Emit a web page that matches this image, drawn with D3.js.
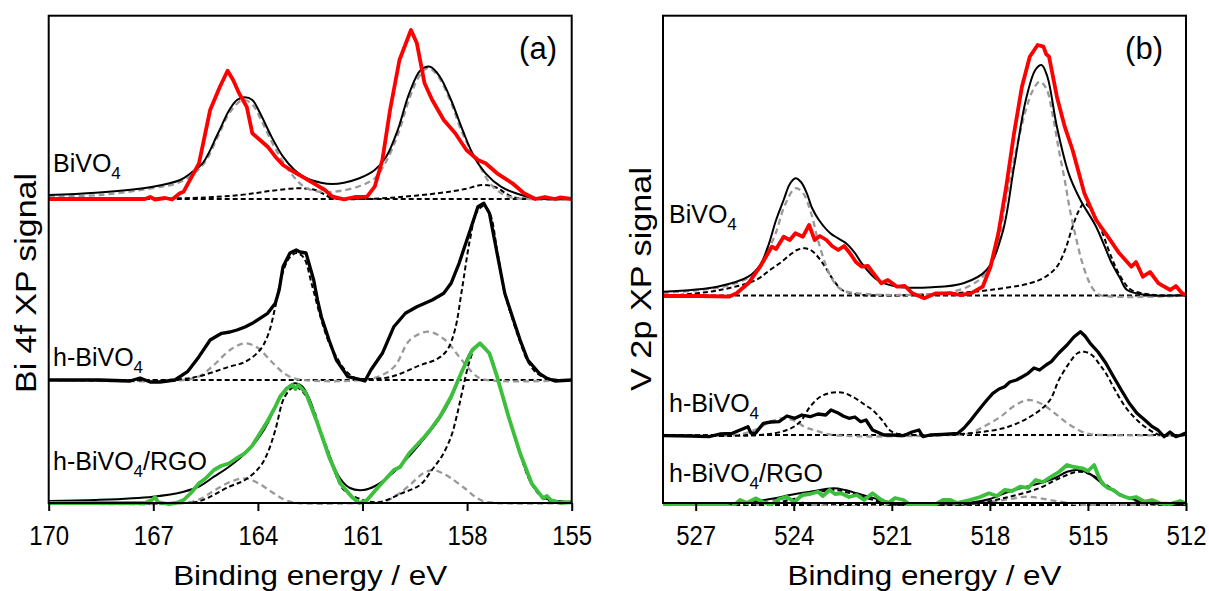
<!DOCTYPE html>
<html><head><meta charset="utf-8">
<script src="https://cdn.jsdelivr.net/npm/d3@7"></script>
<style>
html,body{margin:0;padding:0;background:#fff;}
svg{display:block;font-family:Arial,"Liberation Sans",sans-serif;}
</style></head>
<body>
<svg id="chart" width="1209" height="591"></svg>
<script>
// ---------------- DATA (energy in eV, signal in arbitrary units above each trace's baseline) ----------------
const ticksA = [170,167,164,161,158,155];
const ticksB = [527,524,521,518,515,512];
const offsetsA = [304, 123, 0];     // BiVO4, h-BiVO4, h-BiVO4/RGO
const offsetsB = [207.5, 68, -2];
const sampleNames = ["BiVO4", "h-BiVO4", "h-BiVO4/RGO"];

// ---- Panel (a) Bi 4f ----
const a1_exp = [[170,0],[168.53,0],[167.24,0],[167.09,2],[166.95,-0.5],[166.66,1],[166.46,-0.5],[166.24,5.7],[166.13,7.3],[165.69,35.7],[165.37,89],[165.09,112.3],[164.87,128.3],[164.71,119],[164.54,105.7],[164.32,92.3],[164.16,65.7],[163.94,59],[163.72,52.3],[163.5,42.3],[163.28,34],[163.06,29],[162.73,22.3],[162.4,15.7],[162.08,9],[161.86,2.3],[161.53,-0.3],[161.22,2],[160.87,2.3],[160.65,12.3],[160.43,39],[160.21,89],[159.94,139],[159.61,169],[159.44,155.7],[159.22,115.7],[159.0,99],[158.67,79],[158.34,65.7],[158.02,49],[157.69,39],[157.47,35.7],[157.14,25.7],[156.7,15.7],[156.37,5.7],[156.04,0],[155.77,2],[155.48,0],[155.34,1.5],[155,0]];
const a1_fit = [[170,4],[168.65,6.3],[167.01,12.3],[166.23,19],[165.92,26],[165.58,36],[165.14,66],[164.82,89],[164.6,99],[164.38,101.7],[164.16,99],[163.94,86],[163.61,62.3],[163.28,42.3],[162.95,29],[162.62,21],[162.19,16.3],[161.86,15],[161.53,16.3],[161.09,20.7],[160.65,29],[160.32,42.3],[159.99,69],[159.66,105.7],[159.33,129],[159.06,132.3],[158.78,122.3],[158.46,99],[158.13,69],[157.8,42.3],[157.47,25.7],[157.03,12.3],[156.6,5.7],[156.04,0.7],[155,0]];
const a1_gray = [[170,2.3],[168.53,4],[167.01,11],[166.23,17],[165.58,34],[165.14,63],[164.8,87],[164.43,99],[164.17,95],[163.88,77],[163.51,51],[163.06,26],[162.62,11],[162.08,7],[161.65,8],[161.07,13],[160.64,21],[160.33,37],[159.98,65],[159.64,102],[159.35,124],[159.12,131],[158.86,124],[158.49,99],[158.15,67],[157.69,36],[157.26,12.3],[156.81,2.3],[156.19,0],[155,0]];
const a1_dash = [[170,0],[165.92,1],[164.51,4],[163.65,8],[162.85,10.7],[162.36,9],[161.86,1],[161.0,0],[159.92,2],[158.78,6],[158.06,10],[157.58,14],[157.2,12],[156.71,2.3],[156.19,0],[155,0]];

const a2_exp = [[170,0],[168.53,0],[167.67,-1],[167.38,2],[167.09,-2],[166.81,-2],[166.38,0],[166.02,8.3],[165.69,23.3],[165.37,40],[165.04,46.7],[164.8,48],[164.6,50],[164.37,53],[164.16,56.7],[163.72,66.7],[163.5,76.7],[163.39,90],[163.28,113.3],[163.08,127],[162.9,130],[162.79,128],[162.62,127],[162.4,100],[162.29,80],[162.18,63.3],[161.96,40],[161.75,20],[161.42,3.3],[161.09,0.7],[160.93,-1],[160.76,10],[160.43,26.7],[160.1,53.3],[159.77,66.7],[159.44,73.3],[159.0,80],[158.67,86.7],[158.46,96.7],[158.23,116.7],[157.91,150],[157.69,173.3],[157.52,176.7],[157.36,166.7],[157.14,126.7],[156.92,86.7],[156.7,63.3],[156.48,40],[156.26,20],[155.93,6.7],[155.71,1.7],[155.48,-1],[155,0]];
const a2_dash = [[170,0],[166.24,0.7],[165.66,4],[164.82,13.3],[164.37,18],[163.94,30],[163.71,45],[163.5,73.3],[163.31,105],[163.08,123],[162.88,127],[162.68,122],[162.45,95],[162.22,65],[161.99,40],[161.75,23.3],[161.5,10],[161.2,1.7],[160.99,1],[160.21,3],[159.33,15],[158.86,21],[158.57,30],[158.35,50],[158.15,90],[157.92,140],[157.72,168],[157.52,174],[157.34,166],[157.14,130],[156.92,87],[156.71,62],[156.48,38],[156.25,18],[155.97,6],[155.61,1],[155,0]];
const a2_gray = [[170,0],[166.13,0],[165.66,4],[165.23,16],[164.8,30],[164.38,36.7],[164.0,32],[163.6,18],[163.22,6],[162.85,0.7],[161.0,0],[160.5,4],[160.07,14],[159.64,40],[159.11,48.3],[158.63,40],[158.2,22],[157.86,8],[157.58,1],[155,0]];

const a3_exp = [[170,0],[168.53,0],[167.24,0],[167.04,3],[166.95,6],[166.87,1],[166.58,-1],[166.35,0],[166.13,3],[165.92,10],[165.69,19.7],[165.52,24],[165.26,33],[165.06,37],[164.82,39.7],[164.6,45],[164.38,49.7],[164.17,57],[163.94,69.7],[163.72,82],[163.5,96.3],[163.37,106],[163.17,114.7],[163.01,118],[162.92,114],[162.84,118],[162.62,109.7],[162.29,79.7],[161.96,46.3],[161.64,19.7],[161.31,6.3],[161.09,0],[160.87,3],[160.54,16.3],[160.1,33],[159.92,36],[159.66,49.7],[159.22,66.3],[159.06,73],[158.78,86.3],[158.46,106.3],[158.13,133],[157.85,153],[157.63,159.7],[157.36,149.7],[157.14,126.3],[156.81,86.3],[156.48,49.7],[156.15,19.7],[155.82,4.7],[155.71,7],[155.6,3],[155.33,0],[155,1]];
const a3_fit = [[170,2],[168.65,3],[167.01,6.3],[166.13,11.3],[165.66,17],[165.26,26.3],[164.8,37],[164.27,53],[163.94,67],[163.72,79.7],[163.48,98],[163.22,113],[162.95,119.7],[162.74,117],[162.51,103],[162.29,79.7],[161.96,48],[161.65,25],[161.36,15],[160.98,13],[160.64,17],[160.1,31],[159.66,47],[159.22,65],[158.78,85],[158.46,105],[158.13,133],[157.86,153],[157.63,158],[157.36,149],[157.14,126],[156.81,86],[156.48,50],[156.15,20],[155.77,5],[155,1]];
const a3_dash = [[170,0],[166.13,0],[165.66,2],[164.82,16.3],[164.37,23],[163.94,36.3],[163.71,51],[163.5,73],[163.23,106.3],[162.95,116.3],[162.71,111],[162.4,93],[162.22,73],[161.96,49.7],[161.76,28],[161.53,13],[160.98,3],[160.5,1],[159.88,9.7],[159.35,18],[159.01,33],[158.72,47],[158.46,66.3],[158.29,88],[158.13,113],[157.92,143],[157.75,156.3],[157.6,158],[157.36,149],[157.14,126],[156.81,86],[156.48,49],[156.15,19],[155.77,4],[155,0]];
const a3_gray = [[170,0],[166.13,0],[165.66,4],[165.23,13],[164.8,21],[164.38,24.7],[164.0,20],[163.6,11],[163.22,3],[162.85,0],[161.0,0],[160.4,1],[160.01,8],[159.64,18],[159.29,29],[158.98,33],[158.72,30],[158.47,25],[158.04,14],[157.72,5],[157.43,1],[155,0]];

// ---- Panel (b) V 2p ----
const b1_exp = [[528,-0.5],[526.87,-0.5],[525.98,-1.2],[525.75,2.2],[525.39,12.2],[525.03,28.8],[524.67,48.8],[524.54,46.5],[524.31,58.8],[524.12,55.5],[523.95,62.2],[523.72,58.8],[523.53,70.5],[523.36,55.5],[523.2,59.5],[523.0,55.5],[522.83,49.5],[522.64,45.5],[522.46,49.5],[522.28,42.2],[522.1,33.5],[521.92,28.8],[521.73,29.5],[521.56,22.2],[521.32,12.2],[521.12,15.5],[520.84,8.8],[520.6,9.5],[520.37,2.2],[520.01,-2.8],[519.65,2.2],[519.17,2.2],[518.91,0.5],[518.58,2.2],[518.22,8.8],[517.98,28.8],[517.74,62.2],[517.5,108.8],[517.26,162.2],[517.02,208.8],[516.78,238.8],[516.54,250.5],[516.36,248.8],[516.28,241.5],[516.19,238.8],[515.95,198.8],[515.71,168.8],[515.47,145.5],[515.11,102.2],[514.75,75.5],[514.39,58.8],[514.04,42.2],[513.67,28.8],[513.53,33.5],[513.32,18.8],[513.1,23.5],[512.84,12.2],[512.48,5.5],[512.31,9.5],[512.12,2.2],[512,0.5]];
const b1_fit = [[528,3.8],[526.34,8.8],[525.39,18.8],[525.03,30.5],[524.79,48.8],[524.54,75.5],[524.31,95.5],[524.12,111.5],[523.95,117.2],[523.78,113.5],[523.6,102.2],[523.44,87.5],[523.23,75.5],[522.88,62.2],[522.4,52.2],[522.13,42.5],[521.92,32.2],[521.44,15.5],[520.84,8.8],[519.77,8.2],[518.81,12.2],[518.1,25.5],[517.62,62.2],[517.26,128.8],[516.9,195.5],[516.61,225.5],[516.42,230.5],[516.24,218.8],[515.95,168.8],[515.59,122.2],[515.23,95.5],[514.75,68.8],[514.27,32.2],[514.02,17.5],[513.8,5.5],[513.2,0.5],[512,0.2]];
const b1_gray = [[528,2.5],[526.87,5.5],[525.95,10.5],[525.16,22.5],[524.85,40.5],[524.55,62.5],[524.27,90.5],[523.95,107.2],[523.72,102.5],[523.47,82.5],[523.26,55.5],[523.0,28.8],[522.77,13.5],[522.52,5.5],[521.8,1.5],[520.75,0.5],[519.41,2.5],[518.76,7.5],[518.22,18.8],[517.84,40.5],[517.51,95.5],[517.23,140.5],[516.9,185.5],[516.68,205.5],[516.48,213.8],[516.28,207.5],[516.07,178.8],[515.89,145.5],[515.71,115.5],[515.55,85.5],[515.35,55.5],[515.18,33.5],[514.99,15.5],[514.82,5.5],[514.63,0.5],[512,0]];
const b1_dash = [[528,0],[527.54,0.5],[526.26,5.5],[525.16,15.5],[524.73,25.5],[524.43,32.2],[524.12,40.5],[523.9,45.5],[523.66,47.2],[523.44,44.5],[523.11,32.2],[522.83,17.5],[522.52,5.5],[522.13,1.5],[521.56,0],[519.17,2.2],[518.0,5.5],[516.78,12.2],[516.31,18.5],[515.95,28.8],[515.7,45.5],[515.47,68.8],[515.27,85.5],[515.11,92.2],[514.94,87.5],[514.63,68.8],[514.39,47.5],[514.16,28.8],[513.9,13.5],[513.67,5.5],[512.96,0.5],[512,0]];

const b2_exp = [[528,-0.7],[527.17,-1],[526.59,-1.7],[526.26,1],[525.88,1.7],[525.64,5],[525.4,8.3],[525.31,2],[525.17,1.7],[524.93,11.7],[524.7,13],[524.45,13.3],[524.21,19],[523.97,16.7],[523.75,20],[523.5,18.3],[523.26,21],[523.02,20],[522.86,25],[522.66,22.3],[522.49,19],[522.31,16.7],[522.13,18],[521.95,13.3],[521.79,15],[521.59,5],[521.24,0],[521.0,0],[520.64,-0.7],[520.38,3],[520.17,5],[520.05,-1.7],[519.83,0],[519.45,0.7],[518.98,1.7],[518.79,7],[518.62,13.3],[518.46,20],[518.26,28.3],[518.09,35],[517.91,41.7],[517.72,46],[517.55,48.3],[517.39,53],[517.19,55],[517.02,58],[516.83,61.7],[516.65,67],[516.48,65],[516.28,70],[516.12,73.3],[515.89,82],[515.64,90],[515.43,98],[515.23,103.3],[515.09,99],[514.93,91.7],[514.69,83],[514.45,71.7],[514.23,59],[513.98,45],[513.74,32],[513.5,21.7],[513.26,15],[513.03,8.3],[512.86,5],[512.67,-1.7],[512.49,3],[512.31,-1.7],[512.15,0],[512.01,2]];
const b2_dash = [[528,0],[525.03,0],[524.21,5],[523.81,13],[523.5,28.3],[523.2,38],[522.89,42],[522.49,42.3],[522.13,37],[521.82,30],[521.59,25],[521.3,15],[521.0,3.3],[520.4,0],[518.62,1.7],[517.43,8.3],[516.6,21.7],[516.16,35],[515.89,55],[515.55,73],[515.31,82],[515.11,83.3],[514.88,80],[514.63,70],[514.45,61.7],[514.17,45],[513.86,28.3],[513.56,17],[513.26,8.3],[512.79,0],[512,0]];
const b2_gray = [[528,0],[525.77,0],[525.19,5],[524.73,13],[524.33,16.7],[523.96,14],[523.66,8],[523.38,5],[522.78,0],[519.22,0],[518.62,1.7],[518.15,9],[517.67,18.3],[517.26,29],[516.83,35],[516.41,31],[516.01,21.7],[515.55,10],[515.05,1.7],[514.63,0],[512,0]];

const b3_exp = [[528,0],[526.87,0],[526.12,0],[525.89,-2],[525.64,5],[525.43,2],[525.17,6.7],[524.94,3],[524.7,0],[524.45,6],[524.21,8.3],[523.99,3],[523.74,10],[523.5,11],[523.26,13.3],[523.11,9],[522.9,15],[522.74,11],[522.55,11.7],[522.31,8],[522.07,10],[521.85,5],[521.59,11.7],[521.36,6],[521.12,1.7],[520.9,7],[520.64,5],[520.41,-1],[520.17,0],[519.69,0],[519.43,5],[519.21,5],[519.01,2],[518.62,5],[518.3,8],[518.03,11.7],[517.78,9],[517.55,15],[517.32,14],[517.07,18.3],[516.83,17],[516.6,25],[516.38,23],[516.12,28.3],[515.89,33],[515.64,40],[515.43,38],[515.17,36.7],[515.0,34],[514.81,40],[514.69,30],[514.57,21.7],[514.39,17],[514.22,15],[514.02,10],[513.74,6.7],[513.53,8],[513.26,3.3],[513.04,5],[512.79,1.7],[512.49,1],[512.18,4],[512.01,1.7]];
const b3_fit = [[528,0],[525.77,1.7],[524.57,6.7],[524.12,10],[523.5,13.3],[522.78,16.7],[522.43,15],[522.07,11.7],[521.67,8],[521.36,5],[520.9,2],[520.4,1.7],[518.62,2.3],[518.0,6],[517.43,13.3],[516.93,18],[516.48,21.7],[516.01,27],[515.64,33.3],[515.29,35],[514.94,31],[514.57,21.7],[514.17,13],[513.86,8.3],[513.41,4],[513.03,1.7],[512,0]];
const b3_dash = [[528,0],[525.03,0],[524.12,5],[523.5,11],[522.78,15],[522.28,12],[521.67,6],[521.06,1],[520.41,0],[518.61,1],[517.43,8],[516.48,17],[515.86,27],[515.29,33.3],[514.88,30],[514.48,21],[514.02,11],[513.41,3],[512.8,0],[512,0]];
const b3_gray = [[528,0],[525.19,0],[524.73,4],[524.33,6.7],[523.81,3],[523.35,0],[519.22,0],[518.0,3],[517.39,6],[516.83,8.3],[516.16,5],[515.4,1],[514.94,0],[512,0]];

// ---------------- DRAWING ----------------
const svg = d3.select("#chart");
const Y_BOT = 503, Y_TOP = 15.7;
const y = d3.scaleLinear().domain([0, 487.3]).range([Y_BOT, Y_TOP]);

const STY = {
  red:   {stroke:"#ff0000", width:3.8},
  green: {stroke:"#3cbf3c", width:3.8},
  thick: {stroke:"#000", width:3.3},
  fit:   {stroke:"#000", width:2},
  dash:  {stroke:"#000", width:2, dash:"5,3"},
  gray:  {stroke:"#999", width:2.3, dash:"6,4"},
  base:  {stroke:"#000", width:2, dash:"5,3"}
};

function drawPanel(cfg){
  const x = d3.scaleLinear().domain(cfg.domain).range([cfg.x0, cfg.x1]);
  const g = svg.append("g");
  const clipId = "clip" + cfg.id;
  svg.append("clipPath").attr("id", clipId).append("rect")
    .attr("x", cfg.x0).attr("y", Y_TOP).attr("width", cfg.x1 - cfg.x0).attr("height", Y_BOT - Y_TOP + 3);
  const plot = g.append("g").attr("clip-path", `url(#${clipId})`);
  cfg.blocks.forEach(b => {
    plot.append("path").datum([[cfg.domain[0],0],[cfg.domain[1],0]])
      .attr("d", d3.line().x(d=>x(d[0])).y(d=>y(d[1]+b.offset)))
      .attr("fill","none").attr("stroke",STY.base.stroke).attr("stroke-width",STY.base.width)
      .attr("stroke-dasharray",STY.base.dash);
    b.series.forEach(s => {
      const st = STY[s.style];
      const curve = s.smooth ? d3.curveCatmullRom.alpha(0.5) : d3.curveLinear;
      plot.append("path").datum(s.data)
        .attr("d", d3.line().curve(curve).x(d=>x(d[0])).y(d=>y(d[1]+b.offset)))
        .attr("fill","none").attr("stroke",st.stroke).attr("stroke-width",st.width)
        .attr("stroke-linejoin","round").attr("stroke-linecap","butt")
        .attr("stroke-dasharray", st.dash || null);
    });
  });
  const axis = d3.axisBottom(x).tickValues(cfg.ticks).tickSize(8).tickSizeOuter(0).tickFormat(d3.format("d"));
  const ax = g.append("g").attr("transform",`translate(0,${Y_BOT})`).call(axis);
  ax.select(".domain").remove();
  ax.selectAll(".tick line").attr("stroke","#000").attr("stroke-width",2);
  ax.selectAll(".tick text").attr("y",42).attr("dy",0).attr("font-size",27).attr("fill","#000")
    .attr("font-family","Arial, 'Liberation Sans', sans-serif")
    .attr("textLength",40).attr("lengthAdjust","spacingAndGlyphs");
  g.append("rect").attr("x",cfg.x0).attr("y",Y_TOP).attr("width",cfg.x1-cfg.x0).attr("height",Y_BOT-Y_TOP)
    .attr("fill","none").attr("stroke","#000").attr("stroke-width",2);
  g.append("text").attr("x",(cfg.x0+cfg.x1)/2).attr("y",585).attr("text-anchor","middle")
    .attr("font-size",28).attr("textLength",274).attr("lengthAdjust","spacingAndGlyphs")
    .text("Binding energy / eV");
  g.append("text").attr("transform",`translate(${cfg.x0-12.5},${cfg.yTitleC}) rotate(-90)`)
    .attr("text-anchor","middle").attr("font-size",29)
    .attr("textLength",cfg.yTitleLen).attr("lengthAdjust","spacingAndGlyphs")
    .text(cfg.yTitle);
  g.append("text").attr("x",cfg.letterX).attr("y",59).attr("text-anchor","end").attr("font-size",31).text(cfg.letter);
  cfg.labels.forEach((lp,i) => {
    const name = sampleNames[i];
    const idx = name.indexOf("4");
    const t = g.append("text").attr("x",lp[0]).attr("y",lp[1]).attr("font-size",25);
    t.append("tspan").text(name.slice(0,idx));
    t.append("tspan").attr("font-size",17).attr("dy",7).text("4");
    if (idx+1 < name.length) t.append("tspan").attr("dy",-7).text(name.slice(idx+1));
  });
}

drawPanel({
  id:"a", domain:[170,155], x0:48.7, x1:571.7, ticks:ticksA,
  yTitle:"Bi 4f XP signal", yTitleC:283, yTitleLen:220, letter:"(a)", letterX:557,
  labels:[[53,172],[53,366],[53,470]],
  blocks:[
    {offset:offsetsA[0], series:[
      {data:a1_dash, style:"dash", smooth:true},
      {data:a1_gray, style:"gray", smooth:true},
      {data:a1_fit,  style:"fit",  smooth:true},
      {data:a1_exp,  style:"red"}]},
    {offset:offsetsA[1], series:[
      {data:a2_gray, style:"gray", smooth:true},
      {data:a2_dash, style:"dash", smooth:true},
      {data:a2_exp,  style:"thick"}]},
    {offset:offsetsA[2], series:[
      {data:a3_gray, style:"gray", smooth:true},
      {data:a3_dash, style:"dash", smooth:true},
      {data:a3_fit,  style:"fit",  smooth:true},
      {data:a3_exp,  style:"green"}]}
  ]
});

drawPanel({
  id:"b", domain:[528,512], x0:663, x1:1186, ticks:ticksB,
  yTitle:"V 2p XP signal", yTitleC:279, yTitleLen:224, letter:"(b)", letterX:1163,
  labels:[[669,223],[669,412],[669,482]],
  blocks:[
    {offset:offsetsB[0], series:[
      {data:b1_dash, style:"dash", smooth:true},
      {data:b1_gray, style:"gray", smooth:true},
      {data:b1_fit,  style:"fit",  smooth:true},
      {data:b1_exp,  style:"red"}]},
    {offset:offsetsB[1], series:[
      {data:b2_gray, style:"gray", smooth:true},
      {data:b2_dash, style:"dash", smooth:true},
      {data:b2_exp,  style:"thick"}]},
    {offset:offsetsB[2], series:[
      {data:b3_gray, style:"gray", smooth:true},
      {data:b3_dash, style:"dash", smooth:true},
      {data:b3_fit,  style:"fit",  smooth:true},
      {data:b3_exp,  style:"green"}]}
  ]
});
</script>
</body></html>
